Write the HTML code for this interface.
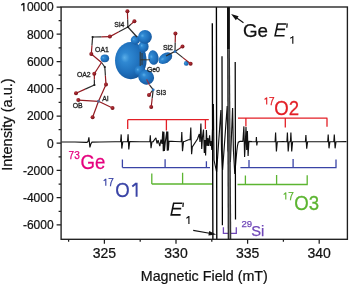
<!DOCTYPE html>
<html><head><meta charset="utf-8"><style>
html,body{margin:0;padding:0;background:#fff;}
svg{display:block;will-change:transform;}
text{font-family:"Liberation Sans",sans-serif;}
</style></head><body>
<svg width="350" height="285" viewBox="0 0 350 285">
<defs>
<radialGradient id="bg" cx="0.42" cy="0.42" r="0.62" fx="0.3" fy="0.42">
<stop offset="0" stop-color="#5aaee8"/><stop offset="0.22" stop-color="#2f88d2"/><stop offset="0.65" stop-color="#1f70bc"/><stop offset="0.9" stop-color="#185ea6"/><stop offset="1" stop-color="#134f8e"/>
</radialGradient>
<radialGradient id="ag" cx="0.4" cy="0.35" r="0.7"><stop offset="0" stop-color="#b8323a"/><stop offset="1" stop-color="#6e0c12"/></radialGradient>
<clipPath id="pc"><rect x="61.1" y="7.0" width="286.29999999999995" height="232.3"/></clipPath>
</defs>
<rect width="350" height="285" fill="#fff"/>
<!-- molecule -->
<g><ellipse cx="139.5" cy="58.0" rx="6.5" ry="12.5" transform="rotate(0 139.5 58.0)" fill="url(#bg)"/><ellipse cx="130.8" cy="60.6" rx="15.8" ry="18.6" transform="rotate(0 130.8 60.6)" fill="url(#bg)"/><ellipse cx="135.4" cy="40.0" rx="4.7" ry="4.4" transform="rotate(0 135.4 40.0)" fill="url(#bg)"/><ellipse cx="143.6" cy="46.5" rx="5.0" ry="5.8" transform="rotate(0 143.6 46.5)" fill="url(#bg)"/><ellipse cx="145.0" cy="36.8" rx="6.9" ry="6.9" transform="rotate(0 145.0 36.8)" fill="url(#bg)"/><ellipse cx="153.4" cy="57.6" rx="5.2" ry="7.3" transform="rotate(-8 153.4 57.6)" fill="url(#bg)"/><ellipse cx="165.3" cy="58.2" rx="7.6" ry="4.9" transform="rotate(-33 165.3 58.2)" fill="url(#bg)"/><ellipse cx="139.8" cy="70.5" rx="5.5" ry="5.5" transform="rotate(0 139.8 70.5)" fill="url(#bg)"/><ellipse cx="146.2" cy="77.2" rx="8.0" ry="7.3" transform="rotate(25 146.2 77.2)" fill="url(#bg)"/><ellipse cx="104.8" cy="58.3" rx="4.3" ry="3.9" transform="rotate(0 104.8 58.3)" fill="url(#bg)"/><ellipse cx="186.3" cy="63.4" rx="2.4" ry="2.3" transform="rotate(0 186.3 63.4)" fill="url(#bg)"/><line x1="127.9" y1="27.0" x2="127.65" y2="19.15" stroke="#2b2b2b" stroke-width="1.2"/><line x1="127.65" y1="19.15" x2="127.4" y2="11.3" stroke="#921a20" stroke-width="1.2"/><line x1="127.9" y1="27.0" x2="131.15" y2="24.15" stroke="#2b2b2b" stroke-width="1.2"/><line x1="131.15" y1="24.15" x2="134.4" y2="21.3" stroke="#921a20" stroke-width="1.2"/><line x1="127.9" y1="27.0" x2="118.9" y2="31.8" stroke="#2b2b2b" stroke-width="1.2"/><line x1="118.9" y1="31.8" x2="109.9" y2="36.6" stroke="#921a20" stroke-width="1.2"/><line x1="127.9" y1="27.0" x2="137" y2="37" stroke="#2b2b2b" stroke-width="1.2"/><line x1="109.9" y1="36.6" x2="101.25" y2="36.8" stroke="#921a20" stroke-width="1.2"/><line x1="101.25" y1="36.8" x2="92.6" y2="37.0" stroke="#2b2b2b" stroke-width="1.2"/><line x1="92.6" y1="37.0" x2="91.94999999999999" y2="45.5" stroke="#2b2b2b" stroke-width="1.2"/><line x1="91.94999999999999" y1="45.5" x2="91.3" y2="54.0" stroke="#921a20" stroke-width="1.2"/><line x1="91.3" y1="54.0" x2="101.5" y2="62.5" stroke="#921a20" stroke-width="1.2"/><line x1="101.5" y1="62.5" x2="104.8" y2="67.0" stroke="#2b2b2b" stroke-width="1.2"/><line x1="101.5" y1="62.5" x2="94.3" y2="73.8" stroke="#921a20" stroke-width="1.2"/><line x1="104.8" y1="67.0" x2="105.4" y2="75.8" stroke="#2b2b2b" stroke-width="1.2"/><line x1="105.4" y1="75.8" x2="106.0" y2="84.6" stroke="#921a20" stroke-width="1.2"/><line x1="94.3" y1="73.8" x2="94.35" y2="79.4" stroke="#921a20" stroke-width="1.2"/><line x1="94.35" y1="79.4" x2="94.4" y2="85.0" stroke="#2b2b2b" stroke-width="1.2"/><line x1="94.4" y1="85.0" x2="85.2" y2="89.15" stroke="#2b2b2b" stroke-width="1.2"/><line x1="85.2" y1="89.15" x2="76.0" y2="93.3" stroke="#921a20" stroke-width="1.2"/><line x1="106.0" y1="84.6" x2="98.5" y2="101.3" stroke="#921a20" stroke-width="1.2"/><line x1="98.5" y1="101.3" x2="78.3" y2="100.1" stroke="#921a20" stroke-width="1.2"/><line x1="98.5" y1="101.3" x2="112.5" y2="108.0" stroke="#921a20" stroke-width="1.2"/><line x1="98.5" y1="101.3" x2="92.6" y2="117.2" stroke="#921a20" stroke-width="1.2"/><line x1="175.0" y1="51.4" x2="175.2" y2="42.5" stroke="#2b2b2b" stroke-width="1.2"/><line x1="175.2" y1="42.5" x2="175.4" y2="33.6" stroke="#921a20" stroke-width="1.2"/><line x1="175.0" y1="51.4" x2="178.75" y2="49.0" stroke="#2b2b2b" stroke-width="1.2"/><line x1="178.75" y1="49.0" x2="182.5" y2="46.6" stroke="#921a20" stroke-width="1.2"/><line x1="175.0" y1="51.4" x2="182.8" y2="57.599999999999994" stroke="#2b2b2b" stroke-width="1.2"/><line x1="182.8" y1="57.599999999999994" x2="190.6" y2="63.8" stroke="#921a20" stroke-width="1.2"/><line x1="175.0" y1="51.4" x2="166" y2="56" stroke="#2b2b2b" stroke-width="1.2"/><line x1="153.2" y1="89.6" x2="151.1" y2="92.3" stroke="#2b2b2b" stroke-width="1.2"/><line x1="151.1" y1="92.3" x2="149.0" y2="95.0" stroke="#921a20" stroke-width="1.2"/><line x1="153.2" y1="89.6" x2="152.2" y2="98.3" stroke="#2b2b2b" stroke-width="1.2"/><line x1="152.2" y1="98.3" x2="151.2" y2="107.0" stroke="#921a20" stroke-width="1.2"/><line x1="153.2" y1="89.6" x2="149.6" y2="85.2" stroke="#2b2b2b" stroke-width="1.2"/><circle cx="127.4" cy="11.3" r="2.0" fill="url(#ag)"/><circle cx="134.4" cy="21.3" r="2.0" fill="url(#ag)"/><circle cx="109.9" cy="36.6" r="2.0" fill="url(#ag)"/><circle cx="91.3" cy="54.0" r="2.0" fill="url(#ag)"/><circle cx="94.3" cy="73.8" r="2.0" fill="url(#ag)"/><circle cx="106.0" cy="84.6" r="2.0" fill="url(#ag)"/><circle cx="76.0" cy="93.3" r="2.0" fill="url(#ag)"/><circle cx="78.3" cy="100.1" r="2.0" fill="url(#ag)"/><circle cx="112.5" cy="108.0" r="2.0" fill="url(#ag)"/><circle cx="92.6" cy="117.2" r="2.0" fill="url(#ag)"/><circle cx="175.4" cy="33.6" r="2.0" fill="url(#ag)"/><circle cx="182.5" cy="46.6" r="2.0" fill="url(#ag)"/><circle cx="190.6" cy="63.8" r="2.0" fill="url(#ag)"/><circle cx="149.0" cy="95.0" r="2.0" fill="url(#ag)"/><circle cx="151.2" cy="107.0" r="2.0" fill="url(#ag)"/><circle cx="98.5" cy="101.3" r="1.5" fill="#56648e"/><circle cx="92.6" cy="37.0" r="1.1" fill="#1a1a1a"/><circle cx="104.8" cy="67.0" r="1.1" fill="#1a1a1a"/><circle cx="94.4" cy="85.0" r="1.1" fill="#1a1a1a"/><circle cx="127.9" cy="27.0" r="1.1" fill="#1a1a1a"/><path d="M140.2 51.8V66 M140.4 59.8H150 M142 53V65" stroke="#3a3020" stroke-width="0.9" fill="none"/><circle cx="175" cy="51.6" r="1.4" fill="#2a6fb8"/><circle cx="153.2" cy="89.8" r="1.4" fill="#2a6fb8"/><line x1="149.6" y1="85.2" x2="146.6" y2="79.4" stroke="#b0242a" stroke-width="1.2" opacity="0.75"/></g>
<g font-size="6.9" fill="#222" stroke="#222" stroke-width="0.3"><text x="114.3" y="27.1">Si4</text><text x="95.1" y="51.7">OA1</text><text x="76.9" y="76.5">OA2</text><text x="102.3" y="100.6">Al</text><text x="72.7" y="108.3">OB</text><text x="162.9" y="49.7">Si2</text><text x="146.9" y="71.9">Ge0</text><text x="156.1" y="94.7">Si3</text></g>
<!-- brackets -->
<path d="M127.7 119.7H208.8M238 118.2H327.4M127.7 119.7V129M166.4 119.7V130.4M205.4 119.7V129M245.9 118.2V126.4M285.3 118.2V127.5M327.0 118.2V126.7" stroke="#e31f26" stroke-width="1.3" fill="none"/>
<path d="M122.4 167.6H210M240.4 167.6H336.6M122.4 167.6V159.4M165.1 167.6V159.3M206.4 167.6V161.3M249.0 167.6V160.0M293.1 167.6V158.9M336.0 167.6V159.5" stroke="#3a44a6" stroke-width="1.3" fill="none"/>
<path d="M151.8 184.0H212.6M237.5 184.5H307.8M151.8 184.0V173.4M182.6 184.0V172.8M245.4 184.5V175.4M276.6 184.5V175.0M307.2 184.5V175.3" stroke="#5cb531" stroke-width="1.3" fill="none"/>
<path d="M223.4 227.3V233.4H236.3V227.3M229.6 233.4V229" stroke="#7048b8" stroke-width="1.3" fill="none"/>
<!-- spectrum -->
<g clip-path="url(#pc)"><polyline points="61.5,142.0 75.0,142.0 86.0,142.3 87.0,142.3 88.2,141.1 88.9,137.4 89.9,147.4 90.8,144.0 92.0,142.1 100.0,142.0 115.0,141.8 120.6,141.7 121.2,134.4 121.8,148.6 122.8,141.7 127.5,141.7 128.1,134.4 128.8,149.4 129.7,141.7 140.0,141.8 149.8,141.7 150.3,135.3 151.0,148.1 152.0,141.7 153.2,141.6 154.6,139.5 155.9,137.9 157.0,143.5 158.1,140.2 159.8,146.2 161.0,139.5 162.0,144.0 162.8,131.4 163.3,151.3 163.9,131.8 164.4,151.0 165.3,142.0 166.8,131.4 167.3,150.7 167.8,131.6 168.3,150.5 169.0,141.2 175.0,141.5 181.3,141.7 181.8,132.0 182.5,151.3 183.5,141.7 185.0,141.2 188.5,139.8 190.1,139.6 190.8,127.5 191.6,154.3 192.3,147.0 197.5,139.0 199.3,134.0 200.0,142.0 200.9,123.5 201.7,149.0 202.6,136.0 203.5,129.5 204.3,153.0 205.0,140.0 205.6,155.4 206.4,130.0 207.2,146.0 207.9,138.0 208.6,146.0 209.6,135.4 210.4,146.0 211.0,141.0 211.8,150.0 213.4,104.0 214.0,160.0 216.6,172.0 220.9,110.0 221.5,150.0 222.6,170.0 227.2,106.0 228.0,150.0 230.4,162.0 232.6,108.0 233.4,150.0 234.8,174.0 235.9,161.0 236.8,151.0 237.5,145.5 238.3,142.2 240.0,141.4 242.2,141.4 242.9,141.4 243.9,126.4 244.6,157.0 245.4,141.5 246.0,127.0 246.7,150.0 247.4,131.0 248.1,156.0 248.9,141.4 252.0,141.6 256.1,141.7 256.4,137.0 256.8,145.5 257.4,141.7 265.0,141.7 275.1,141.7 275.6,132.5 276.4,151.5 277.3,141.7 283.0,141.6 286.9,141.7 287.4,132.5 288.2,151.5 289.1,141.7 290.4,141.7 290.9,132.5 291.7,151.5 292.6,141.7 300.0,141.7 305.4,141.7 305.9,135.0 306.7,148.6 307.6,141.7 320.0,141.7 327.7,141.7 328.2,134.6 329.0,148.3 329.9,141.7 333.8,141.7 334.3,134.6 335.1,148.3 336.0,141.7 346.5,141.6" fill="none" stroke="#111" stroke-width="1.15" stroke-linejoin="miter" stroke-miterlimit="2"/></g>
<g clip-path="url(#pc)">
<path d="M212.3 23.2L212.9 240M216.4 5L216.8 240" stroke="#000" stroke-width="1.35"/>
<path d="M222.0 56.3L222.4 225.3M235.2 62L235.5 219.5" stroke="#000" stroke-width="1.25"/>
<path d="M228.0 49L229.0 49L230.9 240L228.0 240Z" fill="#8a8a8a"/><path d="M227.6 5L228.3 240" stroke="#222" stroke-width="1.2"/>
<path d="M229.3 49L230.7 240" stroke="#333" stroke-width="1.2"/>
<rect x="227.0" y="5" width="2.9" height="44" fill="#111"/>
</g>
<!-- axes -->
<rect x="61.1" y="7.0" width="286.3" height="232.3" fill="none" stroke="#1e1e1e" stroke-width="1.35"/>
<path d="M56.6 224.9H61.1M58.6 211.3H61.1M56.6 197.7H61.1M58.6 184.1H61.1M56.6 170.4H61.1M58.6 156.8H61.1M56.6 143.2H61.1M58.6 129.6H61.1M56.6 116.0H61.1M58.6 102.3H61.1M56.6 88.7H61.1M58.6 75.1H61.1M56.6 61.5H61.1M58.6 47.9H61.1M56.6 34.2H61.1M58.6 20.6H61.1M56.6 7.0H61.1M68.6 239.3V241.8M104.4 239.3V243.8M140.2 239.3V241.8M176.0 239.3V243.8M211.8 239.3V241.8M247.6 239.3V243.8M283.4 239.3V241.8M319.2 239.3V243.8" stroke="#1e1e1e" stroke-width="1.25" fill="none"/>
<g font-size="12" fill="#111" stroke="#111" stroke-width="0.22"><text x="53.6" y="229.2" text-anchor="end">-6000</text><text x="53.6" y="202.0" text-anchor="end">-4000</text><text x="53.6" y="174.7" text-anchor="end">-2000</text><text x="53.6" y="147.5" text-anchor="end">0</text><text x="53.6" y="120.3" text-anchor="end">2000</text><text x="53.6" y="93.0" text-anchor="end">4000</text><text x="53.6" y="65.8" text-anchor="end">6000</text><text x="53.6" y="38.5" text-anchor="end">8000</text><text x="53.6" y="11.3" text-anchor="end">0000</text></g><path d="M23.84 2.90V11.30M23.60 3.26L21.32 5.30" stroke="#111" stroke-width="1.32" fill="none"/>
<g font-size="14" fill="#111" stroke="#111" stroke-width="0.22"><text x="104.4" y="257.8" text-anchor="middle">325</text><text x="176.0" y="257.8" text-anchor="middle">330</text><text x="247.6" y="257.8" text-anchor="middle">335</text><text x="319.2" y="257.8" text-anchor="middle">340</text></g>
<text x="204.3" y="281" font-size="14.3" text-anchor="middle" fill="#111" stroke="#111" stroke-width="0.22">Magnetic Field (mT)</text>
<text transform="translate(12.0 124.5) rotate(-90)" font-size="14.6" text-anchor="middle" fill="#111" stroke="#111" stroke-width="0.22">Intensity (a.u.)</text>
<!-- labels -->
<g transform="translate(80.6 168.6) scale(1 1.07)"><text font-size="18.6" fill="#e5007e" stroke="#e5007e" stroke-width="0.25">Ge</text></g><text x="68.6" y="158.6" font-size="10" fill="#e5007e" stroke="#e5007e" stroke-width="0.25">73</text>
<g transform="translate(115.3 196.7) scale(1 1.07)"><text font-size="18.6" fill="#3a44a6" stroke="#3a44a6" stroke-width="0.25">O</text></g><path d="M136.6 182.8V196.7M136.3 183.3L132.3 186.4" stroke="#3a44a6" stroke-width="1.95" fill="none"/><path d="M105.80 178.80V185.80M105.60 179.10L103.70 180.80" stroke="#3a44a6" stroke-width="1.14" fill="none"/><text x="108.16" y="185.8" font-size="10" fill="#3a44a6" stroke="#3a44a6" stroke-width="0.25">7</text>
<g transform="translate(274.2 114.6) scale(1 1.07)"><text font-size="18.6" fill="#e31f26" stroke="#e31f26" stroke-width="0.25">O2</text></g><path d="M266.70 97.50V104.50M266.50 97.80L264.60 99.50" stroke="#e31f26" stroke-width="1.14" fill="none"/><text x="269.06" y="104.5" font-size="10" fill="#e31f26" stroke="#e31f26" stroke-width="0.25">7</text>
<g transform="translate(294.2 209.8) scale(1 1.07)"><text font-size="18.6" fill="#5cb531" stroke="#5cb531" stroke-width="0.25">O3</text></g><path d="M285.80 192.60V199.60M285.60 192.90L283.70 194.60" stroke="#5cb531" stroke-width="1.14" fill="none"/><text x="288.16" y="199.6" font-size="10" fill="#5cb531" stroke="#5cb531" stroke-width="0.25">7</text>
<text x="251.2" y="235.8" font-size="14.7" fill="#7048b8" stroke="#7048b8" stroke-width="0.25">Si</text><text x="241.5" y="227.4" font-size="9.6" fill="#7048b8" stroke="#7048b8" stroke-width="0.25">29</text>
<text x="243.0" y="36.8" font-size="18.8" fill="#111" stroke="#111" stroke-width="0.25">Ge</text>
<path d="M286.20 24.00H277.56L275.10 35.70H284.50M276.42 29.40H285.10M182.30 203.20H173.66L171.20 214.90H180.60M172.52 208.60H181.20" stroke="#111" stroke-width="1.6" fill="none"/><path d="M287.20 23.40L286.80 27.80M183.30 202.60L182.90 207.00" stroke="#111" stroke-width="1.25" fill="none"/>
<path d="M292.80 36.10V43.80M292.60 36.50L290.30 38.40M188.90 216.10V223.90M188.70 216.50L186.40 218.40" stroke="#111" stroke-width="1.15" fill="none"/>
<!-- arrows -->
<path d="M243.5 22.7L236.5 17.8" stroke="#111" stroke-width="1.1"/>
<path d="M231.1 14.0L238.6 16.3L235.9 20.2Z" fill="#111"/>
<path d="M193.2 230.4L209.5 233.2" stroke="#111" stroke-width="1.1"/>
<path d="M216.2 234.4L208.4 235.4L209.2 230.9Z" fill="#111"/>
</svg>
</body></html>
